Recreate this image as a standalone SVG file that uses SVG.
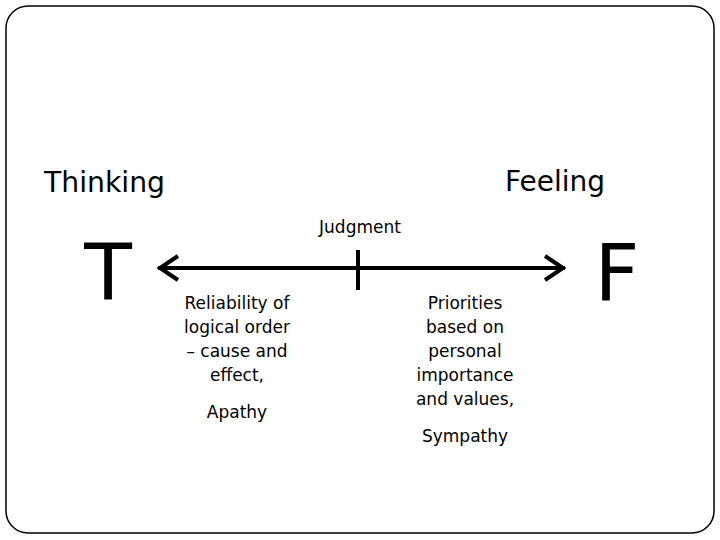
<svg xmlns="http://www.w3.org/2000/svg" width="720" height="540" viewBox="0 0 720 540">
<style>
text{font-family:"DejaVu Sans",Verdana,sans-serif;fill:#000}
.s{font-size:17px;text-anchor:middle}
.b{font-size:28px}
.h{font-size:78px;text-anchor:middle}
</style>
<rect x="6" y="6" width="708" height="527" rx="22" fill="#fff" stroke="#000" stroke-width="1.5"/>
<g id="thinking"><text class="b" x="44" y="192" textLength="121" lengthAdjust="spacingAndGlyphs">Thinking</text></g>
<g id="feeling"><text class="b" x="505" y="191" textLength="100" lengthAdjust="spacingAndGlyphs">Feeling</text></g>
<g id="T"><text class="h" x="108" y="300">T</text></g>
<g id="F"><text class="h" x="617" y="300">F</text></g>
<g id="judgment"><text class="s" x="360" y="233">Judgment</text></g>
<g id="connectors" stroke="#000" fill="none">
<line x1="158" y1="268" x2="565" y2="268" stroke-width="4"/>
<polyline points="178,256 160,268 178,280" stroke-width="4"/>
<polyline points="545,256 563,268 545,280" stroke-width="4"/>
<line x1="358" y1="250" x2="358" y2="290" stroke-width="4"/>
</g>
<g id="left"><text class="s" x="237" y="309">Reliability of</text><text class="s" x="237" y="333">logical order</text><text class="s" x="237" y="357">– cause and</text><text class="s" x="237" y="381">effect,</text><text class="s" x="237" y="418">Apathy</text></g>
<g id="right"><text class="s" x="465" y="309">Priorities</text><text class="s" x="465" y="333">based on</text><text class="s" x="465" y="357">personal</text><text class="s" x="465" y="381">importance</text><text class="s" x="465" y="405">and values,</text><text class="s" x="465" y="442">Sympathy</text></g>
</svg>
